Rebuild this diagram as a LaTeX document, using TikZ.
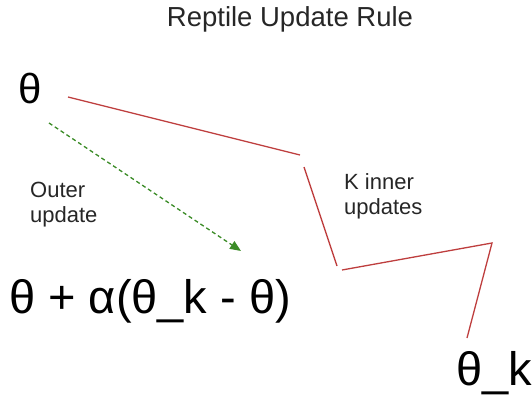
\documentclass[tikz,border=0pt]{standalone}
\usepackage{fontspec}
\setmainfont{Liberation Sans}
\usepackage{tikz}
\usetikzlibrary{arrows.meta, positioning}
\definecolor{innerred}{RGB}{190,62,62}
\definecolor{outergreen}{RGB}{60,140,40}

\begin{document}
\begin{tikzpicture}[x=1pt, y=-1pt, >=Stealth,
    label/.style={inner sep=0pt, anchor=base west, align=left, text=black!85,
      font=\fontsize{22}{25}\selectfont},
    big/.style={inner sep=0pt, anchor=base west, font=\fontsize{47}{52}\selectfont},
    inner/.style={draw=innerred, line width=1.3pt},
    outer/.style={draw=outergreen, line width=1.3pt, dash pattern=on 4pt off 3pt,
      -{Triangle[length=11pt, width=9pt]}}]
  \useasboundingbox (0,0) rectangle (532,396);
  % ---- title ----
  \node[inner sep=0pt, anchor=base, text=black!85, font=\fontsize{27.5}{32}\selectfont]
    (title) at (290,27) {Reptile Update Rule};
  % ---- parameters ----
  \node[big, font=\fontsize{42}{48}\selectfont] (th) at (18,103) {θ};
  \node[big] (upd) at (9,313) {θ + α(θ\_k - θ)};
  \node[big] (thk) at (456,385) {θ\_k};
  % ---- inner loop ----
  \coordinate (a0) at (68,97);
  \coordinate (a1) at (300,155);
  \coordinate (b0) at (304,167);
  \coordinate (b1) at (337,266);
  \coordinate (c0) at (342,270);
  \coordinate (c1) at (492,243);
  \coordinate (c2) at (467,338);
  \draw[inner] (a0) -- (a1);
  \draw[inner] (b0) -- (b1);
  \draw[inner] (c0) -- (c1) -- (c2);
  \node[label] (inlab) at (344,214) {K inner\\updates};
  % ---- outer step ----
  \coordinate (o0) at (49,123);
  \coordinate (o1) at (241,251);
  \draw[outer] (o0) -- (o1);
  \node[label] (outlab) at (30,222) {Outer\\update};
\end{tikzpicture}
\end{document}
